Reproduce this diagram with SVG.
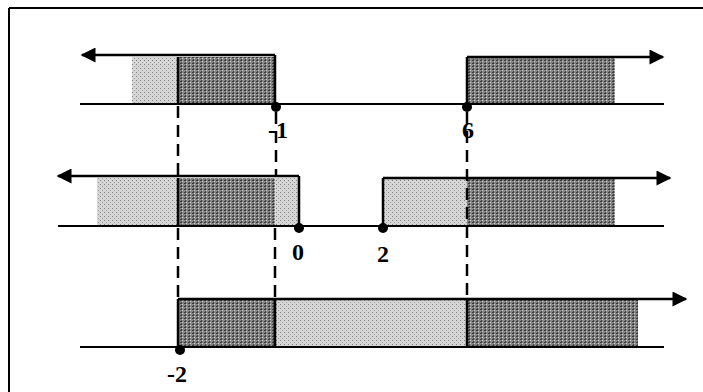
<svg xmlns="http://www.w3.org/2000/svg" width="703" height="392" viewBox="0 0 703 392">
<defs>
<style>
.ln{stroke:#000;stroke-width:2.5;fill:none}
.base{stroke:#000;stroke-width:2;fill:none}
.dash{stroke:#000;stroke-width:2.5;stroke-dasharray:12,7;fill:none}
.lt{fill:url(#pl)}
.dk{fill:url(#pd)}
.dot{fill:#000}
.lbl{font-family:"Liberation Serif",serif;font-weight:bold;font-size:24px;fill:#000;text-anchor:middle}
</style>
<pattern id="pl" width="4" height="4" patternUnits="userSpaceOnUse">
<rect width="4" height="4" fill="#d6d6d6"/>
<rect x="0" y="0" width="1" height="1" fill="#808080"/>
<rect x="2" y="2" width="1" height="1" fill="#9a9a9a"/>
</pattern>
<pattern id="pd" width="4" height="3" patternUnits="userSpaceOnUse">
<rect width="4" height="3" fill="#858585"/>
<rect x="0" y="0" width="2" height="1" fill="#3a3a3a"/>
<rect x="2" y="1" width="1" height="1" fill="#cfcfcf"/>
<rect x="1" y="2" width="1" height="1" fill="#4a4a4a"/>
</pattern>
<marker id="ah" viewBox="0 0 10 10" refX="9" refY="5" markerWidth="8" markerHeight="6" markerUnits="strokeWidth" orient="auto">
<path d="M0,0 L10,5 L0,10 Z" fill="#000"/>
</marker>
</defs>

<g id="frame">
<line class="base" x1="9" y1="8" x2="703" y2="8"/>
<line class="base" x1="9" y1="8" x2="9" y2="392"/>
</g>

<g id="row1">
<rect class="lt" x="132" y="57" width="46" height="46"/>
<rect class="dk" x="178" y="57" width="97" height="46"/>
<rect class="dk" x="467" y="58" width="148" height="45"/>
<line class="base" x1="80" y1="104" x2="664" y2="104"/>
<circle class="dot" cx="276" cy="107" r="5"/>
<circle class="dot" cx="467" cy="107" r="5"/>
<text class="lbl" x="278" y="138">-1</text>
<text class="lbl" x="468" y="138">6</text>
</g>

<g id="row2">
<rect class="lt" x="97" y="178" width="81" height="49"/>
<rect class="dk" x="178" y="178" width="97" height="48"/>
<rect class="lt" x="275" y="178" width="24" height="48"/>
<rect class="lt" x="383" y="179" width="84" height="47"/>
<rect class="dk" x="467" y="179" width="148" height="47"/>
<line class="base" x1="58" y1="226" x2="664" y2="226"/>
<circle class="dot" cx="299" cy="228" r="5"/>
<circle class="dot" cx="383" cy="228" r="5"/>
<text class="lbl" x="298" y="260">0</text>
<text class="lbl" x="383" y="262">2</text>
</g>

<g id="row3">
<rect class="dk" x="178" y="300" width="97" height="46"/>
<rect class="lt" x="275" y="300" width="192" height="46"/>
<rect class="dk" x="467" y="300" width="171" height="46"/>
<line class="base" x1="80" y1="347" x2="664" y2="347"/>
<circle class="dot" cx="180" cy="350" r="5"/>
<text class="lbl" x="177" y="382">-2</text>
</g>

<g id="connectors">
<line class="ln" x1="275" y1="55" x2="82" y2="55" marker-end="url(#ah)"/>
<line class="ln" x1="275" y1="55" x2="275" y2="104"/>
<line class="ln" x1="467" y1="105" x2="467" y2="57"/>
<line class="ln" x1="467" y1="57" x2="663" y2="57" marker-end="url(#ah)"/>
<line class="ln" x1="299" y1="176" x2="58" y2="176" marker-end="url(#ah)"/>
<line class="ln" x1="299" y1="176" x2="299" y2="226"/>
<line class="ln" x1="383" y1="226" x2="383" y2="178"/>
<line class="ln" x1="383" y1="178" x2="670" y2="178" marker-end="url(#ah)"/>
<line class="ln" x1="178" y1="347" x2="178" y2="299"/>
<line class="ln" x1="178" y1="299" x2="686" y2="299" marker-end="url(#ah)"/>
<line class="ln" x1="275" y1="299" x2="275" y2="347"/>
<line class="ln" x1="467" y1="299" x2="467" y2="347"/>
<line class="ln" x1="178" y1="57" x2="178" y2="104"/>
<line class="ln" x1="178" y1="178" x2="178" y2="226"/>
<line class="dash" x1="178" y1="106" x2="178" y2="176"/>
<line class="dash" x1="178" y1="228" x2="178" y2="298"/>
<line class="dash" x1="276" y1="112" x2="276" y2="176"/>
<line class="dash" x1="275" y1="228" x2="275" y2="298"/>
<line class="dash" x1="467" y1="112" x2="467" y2="298"/>
</g>
</svg>
